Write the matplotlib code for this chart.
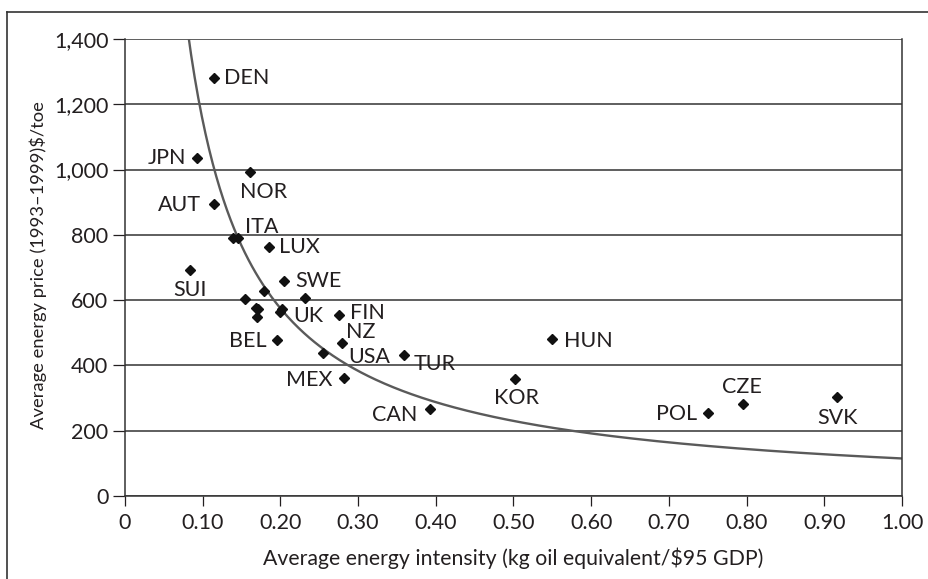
import numpy as np
import matplotlib
matplotlib.use("Agg")
import matplotlib.pyplot as plt
from matplotlib.lines import Line2D

# ---- data ----
countries = ["DEN", "JPN", "NOR", "AUT", "", "ITA", "LUX", "SUI", "SWE",
             "", "", "", "", "", "", "", "UK", "FIN", "NZ", "BEL", "USA",
             "TUR", "MEX", "CAN", "HUN", "KOR", "POL", "CZE", "SVK"]
intensity = [0.114, 0.093, 0.161, 0.114, 0.139, 0.145, 0.185, 0.084, 0.204,
             0.179, 0.232, 0.155, 0.168, 0.171, 0.170, 0.199, 0.202, 0.275,
             0.279, 0.196, 0.255, 0.359, 0.282, 0.393, 0.549, 0.502, 0.750,
             0.796, 0.916]
price = [1281, 1036, 992, 895, 789, 791, 762, 692, 659,
         627, 607, 603, 577, 572, 548, 563, 572, 554,
         470, 477, 438, 433, 361, 266, 481, 359, 254,
         281, 304]
curve_k = 115.0  # fitted curve: price = k / intensity

x_ticks = [0, 0.1, 0.2, 0.3, 0.4, 0.5, 0.6, 0.7, 0.8, 0.9, 1.0]
x_ticklabels = ["0", "0.10", "0.20", "0.30", "0.40", "0.50", "0.60", "0.70",
                "0.80", "0.90", "1.00"]
y_ticks = [0, 200, 400, 600, 800, 1000, 1200, 1400]
y_ticklabels = ["0", "200", "400", "600", "800", "1,000", "1,200", "1,400"]

# label placement: (ha, dx px, dy px)
label_pos = {
    "DEN": ("left", 10.7, 0), "JPN": ("right", -10.6, 0),
    "NOR": ("left", -10, -20.2), "AUT": ("right", -12.7, -1),
    "ITA": ("left", 7.7, 11), "LUX": ("left", 10.3, 0),
    "SWE": ("left", 12, 0), "SUI": ("center", 0, -20),
    "UK": ("left", 11.3, -6.5), "FIN": ("left", 11, 2.5),
    "NZ": ("left", 4, 11), "BEL": ("right", -10.3, -1),
    "USA": ("left", 25, -3.7), "TUR": ("left", 9.6, -8.9),
    "MEX": ("right", -11.7, -1.8), "CAN": ("right", -12.7, -5.8),
    "HUN": ("left", 12.4, -1.8), "KOR": ("center", 1, -19.6),
    "POL": ("right", -10.7, -0.5), "CZE": ("center", -1.3, 16.8),
    "SVK": ("center", 1, -21.3),
}

plt.rcParams['font.family'] = ['Lato', 'DejaVu Sans']
dark = "#231f20"

W, H = 929, 579
fig = plt.figure(figsize=(W / 100, H / 100), dpi=100)
ax = fig.add_axes([125 / W, 1 - 496 / H, (902 - 125) / W, (496 - 39) / H])

ax.set_xlim(0, 1.0)
ax.set_ylim(0, 1400)

ax.yaxis.grid(True, color="#333333", linewidth=1.1)
ax.set_axisbelow(True)

xs = np.linspace(curve_k / 1400 * 0.98, 1.0, 400)
ax.plot(xs, curve_k / xs, color="#5a5a5a", linewidth=1.7, zorder=2)

ax.plot(intensity, price, linestyle="none", marker="D", markersize=5.6,
        color="#111111", zorder=3)

for name, xv, yv in zip(countries, intensity, price):
    if not name:
        continue
    ha, dx, dy = label_pos[name]
    ax.annotate(name, (xv, yv), xytext=(dx * 0.72, dy * 0.72),
                textcoords="offset points", ha=ha, va="center",
                fontsize=15.5, color=dark)

ax.set_xticks(x_ticks)
ax.set_xticklabels(x_ticklabels)
ax.set_yticks(y_ticks)
ax.set_yticklabels(y_ticklabels)
ax.tick_params(axis="y", length=8.6, width=0.9, pad=3.4, labelsize=15.5,
               colors=dark, direction="out")
ax.tick_params(axis="x", length=7.2, width=0.9, pad=5, labelsize=15.5,
               colors=dark, direction="out")

for side in ["left", "bottom", "right"]:
    ax.spines[side].set_color("#333333")
    ax.spines[side].set_linewidth(1.1)
ax.spines["top"].set_visible(False)

ax.set_xlabel("Average energy intensity (kg oil equivalent/$95 GDP)",
              fontsize=15.3, color=dark)
ax.xaxis.set_label_coords(0.5, -0.113)
ax.set_ylabel("Average energy price (1993\u20131999)$/toe", fontsize=13.2,
              color=dark)
ax.yaxis.set_label_coords(-0.101, 0.505)

# figure frame (left and top edges)
fig.add_artist(Line2D([7 / W, 7 / W], [0, 1 - 12 / H], transform=fig.transFigure,
                      color="#333333", linewidth=1.2))
fig.add_artist(Line2D([7 / W, 1], [1 - 12 / H, 1 - 12 / H], transform=fig.transFigure,
                      color="#333333", linewidth=1.2))

fig.savefig("out.png", dpi=100)
